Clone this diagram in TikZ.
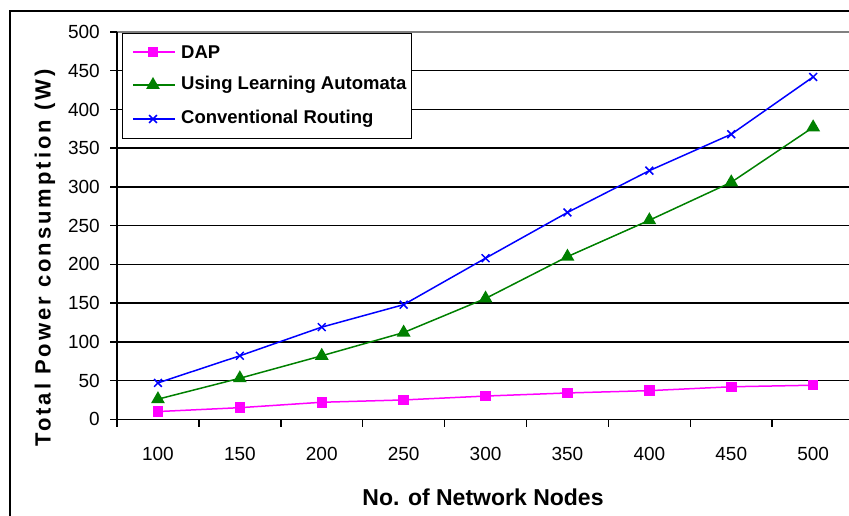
\documentclass[tikz,border=0pt]{standalone}
\usepackage{fontspec}
\setmainfont{Liberation Sans}
\newfontfamily\spacedfont{Liberation Sans}[LetterSpace=13.5]
\usepackage{tikz}
\usetikzlibrary{positioning,plotmarks}
\usepackage{xcolor}
\definecolor{dapcol}{RGB}{255,0,255}
\definecolor{lacol}{RGB}{0,128,0}
\definecolor{crcol}{RGB}{0,0,255}

\begin{document}
\begin{tikzpicture}[x=1pt,y=1pt,
  grid/.style={black,line width=1.5pt},
  ticklabel/.style={font=\fontsize{19}{19}\selectfont,inner sep=0pt},
  legtext/.style={font=\fontsize{18.5}{18.5}\bfseries\selectfont,anchor=west,inner sep=0pt},
  serie/.style={line width=1.5pt,mark options={solid}},
  dap/.style={serie,dapcol,mark=square*,mark size=4.5pt},
  learn/.style={serie,lacol,mark=triangle*,mark size=6.5pt},
  conv/.style={serie,crcol,mark=x,mark size=5.5pt}]

  \useasboundingbox (0,0) rectangle (849,515);
  \clip (0,0) rectangle (849,515);
  \draw[line width=2pt] (9.7,-20) rectangle (880,504);

  \begin{scope}[shift={(117,95.7)},x=81.9pt,y=0.7746pt]
    \foreach \v in {50,100,...,450}
      \draw[grid] (0,\v) -- (9,\v);
    \draw[gray,line width=1.5pt] (0,500) -- (9,500);
    \foreach \v in {0,50,...,500} {
      \draw[grid] ([xshift=-7pt]0,\v) -- (0,\v);
      \node[ticklabel,anchor=east,xshift=-17pt] at (0,\v) {\v};
    }
    \foreach \i in {0,...,9}
      \draw[grid] (\i,0) -- ++(0pt,-8pt);
    \foreach \n [count=\i from 0] in {100,150,...,500}
      \node[ticklabel,yshift=-35pt] at (\i+0.5,0) {\n};
    \draw[grid] (0,0) -- (9,0);
    \draw[grid] (0,0) -- (0,500);

    \draw[dap] plot coordinates {(0.5,10) (1.5,15) (2.5,22) (3.5,25) (4.5,30) (5.5,34) (6.5,37) (7.5,42) (8.5,44)};
    \draw[learn] plot coordinates {(0.5,26) (1.5,53) (2.5,82) (3.5,112) (4.5,156) (5.5,210) (6.5,257) (7.5,306) (8.5,377)};
    \draw[conv] plot coordinates {(0.5,47) (1.5,82) (2.5,119) (3.5,148) (4.5,208) (5.5,267) (6.5,321) (7.5,368) (8.5,442)};
  \end{scope}

  % legend
  \node(L)[draw,fill=white,line width=1pt,anchor=north west,inner sep=0pt,minimum width=289pt,minimum height=105pt] at (122,482) {};
  \coordinate(a1) at (133,463);
  \coordinate(a2) at (133,430);
  \coordinate(a3) at (133,396);
  \draw[dap] (a1) -- ++(42,0);
  \draw[learn] (a2) -- ++(42,0);
  \draw[conv] (a3) -- ++(42,0);
  \draw[dap] plot coordinates {([xshift=20pt]a1)};
  \draw[learn] plot coordinates {([xshift=20pt]a2)};
  \draw[conv] plot coordinates {([xshift=20pt]a3)};
  \node(T1)[legtext,right=48pt of a1] {DAP};
  \node(T2)[legtext,right=48pt of a2] {Using Learning Automata};
  \node(T3)[legtext,right=48pt of a3] {Conventional Routing};

  % axis titles
  \node(Y)[rotate=90,font=\spacedfont\fontsize{22}{22}\bfseries\selectfont] at (45,257) {Total Power consumption (W)};
  \node(X)[font=\fontsize{23}{23}\bfseries\selectfont] at (483,18) {No. of Network Nodes};
\end{tikzpicture}
\end{document}
